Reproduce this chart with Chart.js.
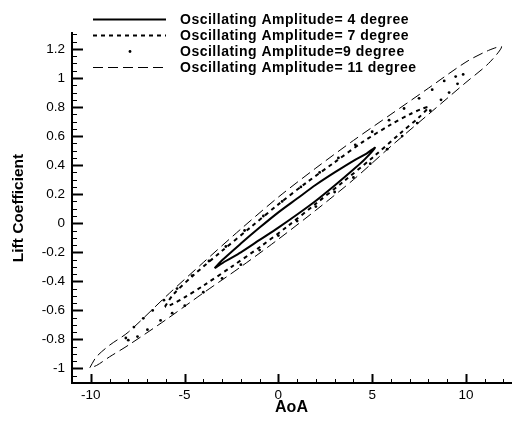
<!DOCTYPE html>
<html>
<head>
<meta charset="utf-8">
<script src="https://cdn.jsdelivr.net/npm/chart.js@4/dist/chart.umd.min.js"></script>
<style>
  html, body { margin: 0; padding: 0; background: #fff; }
</style>
</head>
<body>
<canvas id="chart" width="515" height="421"></canvas>
<script>
// loops: AoA (deg) and lift coefficient, one closed path each
const aoa4 = [-3.4, -3, -2, -1, 0, 1, 2, 3, 4, 4.7, 5.15, 4.6, 4, 3, 2, 1, 0, -1, -2, -2.8, -3.4];
const cl4 = [-0.31, -0.255, -0.14, -0.03, 0.075, 0.17, 0.265, 0.35, 0.43, 0.48, 0.52, 0.44, 0.37, 0.26, 0.155, 0.06, -0.03, -0.115, -0.2, -0.26, -0.31];

const aoa7 = [-6.05, -5.6, -4.5, -3, -1.5, 0, 1.5, 3, 4.5, 6, 7, 7.6, 8, 7.5, 6.5, 5, 3.5, 2, 0.5, -1, -2.5, -4, -5, -5.7, -6.05];
const cl7 = [-0.575, -0.49, -0.355, -0.19, -0.03, 0.13, 0.28, 0.42, 0.56, 0.68, 0.75, 0.785, 0.8, 0.73, 0.62, 0.45, 0.29, 0.135, -0.02, -0.165, -0.3, -0.43, -0.51, -0.56, -0.575];

const aoa9 = [-8.13, -7.7, -7.2, -6.7, -6.1, -5.4, -4.6, -3.7, -2.8, -1.8, -0.8, 0.2, 1.2, 2.2, 3.2, 4.1, 5.0, 5.9, 6.7, 7.5, 8.2, 8.84, 9.45, 9.85,
              9.55, 9.1, 8.67, 8.1, 7.4, 6.6, 5.8, 4.9, 4, 3, 2, 1, 0, -1, -2, -3, -4, -4.99, -5.66, -6.28, -6.98, -7.51, -8.0];
const cl9 = [-0.79, -0.715, -0.655, -0.6, -0.53, -0.45, -0.36, -0.26, -0.16, -0.05, 0.05, 0.15, 0.25, 0.35, 0.45, 0.54, 0.63, 0.71, 0.79, 0.86, 0.92, 0.98, 1.01, 1.025,
             0.96, 0.9, 0.85, 0.775, 0.69, 0.6, 0.51, 0.41, 0.315, 0.215, 0.115, 0.015, -0.085, -0.185, -0.285, -0.38, -0.475, -0.568, -0.619, -0.669, -0.733, -0.78, -0.805];

const aoa11 = [-10.05, -9.7, -9, -8, -6, -4, -2, 0, 2, 4, 6, 8, 10, 11.2, 11.9, 11.2, 10, 8, 6, 4, 2, 0, -2, -4, -6, -8, -9, -9.7, -10.05];
const cl11 = [-0.995, -0.92, -0.84, -0.75, -0.505, -0.27, -0.04, 0.18, 0.38, 0.57, 0.75, 0.93, 1.11, 1.19, 1.215, 1.1, 0.97, 0.75, 0.53, 0.3, 0.09, -0.11, -0.3, -0.48, -0.665, -0.84, -0.92, -0.98, -0.995];

const labels = ['Oscillating Amplitude= 4 degree', 'Oscillating Amplitude= 7 degree',
                'Oscillating Amplitude=9 degree', 'Oscillating Amplitude= 11 degree'];
const xTicks = [-10, -5, 0, 5, 10];
const yTicks = [-1, -0.8, -0.6, -0.4, -0.2, 0, 0.2, 0.4, 0.6, 0.8, 1, 1.2];

const FONT = "'Liberation Sans', Arial, sans-serif";

function pts(xs, ys) {
  return xs.map((x, i) => ({ x: x, y: ys[i] }));
}

// inward minor/major ticks, like the original plot
const tickMarks = {
  id: 'tickMarks',
  afterDraw(chart) {
    const ctx = chart.ctx;
    const xs = chart.scales.x, ys = chart.scales.y;
    const area = chart.chartArea;
    ctx.save();
    ctx.strokeStyle = '#000';
    for (let v = -11; v <= 12; v++) {
      const major = xTicks.includes(v);
      const px = Math.round(xs.getPixelForValue(v)) + 0.5;
      ctx.lineWidth = major ? 2 : 1;
      ctx.beginPath();
      ctx.moveTo(px, area.bottom);
      ctx.lineTo(px, area.bottom - (major ? 9 : 4));
      ctx.stroke();
    }
    for (let k = -22; k <= 26; k++) {
      const v = k * 0.05;
      const major = k % 4 === 0 && k >= -20 && k <= 24;
      const py = Math.round(ys.getPixelForValue(v)) + 0.5;
      if (py < area.top - 1) continue;
      ctx.lineWidth = major ? 2 : 1;
      ctx.beginPath();
      ctx.moveTo(area.left, py);
      ctx.lineTo(area.left + (major ? 11 : 5), py);
      ctx.stroke();
    }
    ctx.restore();
  }
};

// legend block drawn over the top of the plot
const legendBlock = {
  id: 'legendBlock',
  afterDraw(chart) {
    const ctx = chart.ctx;
    const rows = [19, 35, 51, 67];
    ctx.save();
    ctx.strokeStyle = '#000';
    ctx.fillStyle = '#000';
    rows.forEach((y, i) => {
      const ds = chart.data.datasets[i];
      if (ds.showLine === false) {
        ctx.beginPath();
        ctx.arc(130, y + 0.5, 1.4, 0, Math.PI * 2);
        ctx.fill();
      } else {
        ctx.lineWidth = ds.borderWidth;
        ctx.setLineDash(ds.borderDash || []);
        ctx.beginPath();
        ctx.moveTo(93, y + 0.5);
        ctx.lineTo(166, y + 0.5);
        ctx.stroke();
        ctx.setLineDash([]);
      }
      ctx.font = 'bold 14px ' + FONT;
      ctx.letterSpacing = '0.5px';
      ctx.textBaseline = 'middle';
      ctx.textAlign = 'left';
      ctx.fillText(labels[i], 180, y + 1);
      ctx.letterSpacing = '0px';
    });
    ctx.restore();
  }
};

const ctx = document.getElementById('chart').getContext('2d');
new Chart(ctx, {
  type: 'scatter',
  data: {
    datasets: [
      { label: labels[0], data: pts(aoa4, cl4), showLine: true, borderColor: '#000', borderWidth: 2, pointRadius: 0, tension: 0.3 },
      { label: labels[1], data: pts(aoa7, cl7), showLine: true, borderColor: '#000', borderWidth: 2, borderDash: [4, 4], pointRadius: 0, tension: 0.3 },
      { label: labels[2], data: pts(aoa9, cl9), showLine: false, backgroundColor: '#000', borderWidth: 0, pointRadius: 1.4 },
      { label: labels[3], data: pts(aoa11, cl11), showLine: true, borderColor: '#000', borderWidth: 1, borderDash: [10, 5], pointRadius: 0, tension: 0.3 }
    ]
  },
  options: {
    responsive: false,
    animation: false,
    layout: { padding: { top: 33, right: 2, left: 0, bottom: 0 } },
    plugins: { legend: { display: false }, tooltip: { enabled: false } },
    scales: {
      x: {
        type: 'linear',
        min: -11,
        max: 12.4,
        afterBuildTicks: s => { s.ticks = xTicks.map(v => ({ value: v })); },
        afterFit: s => { s.height = 38; },
        grid: { display: false, drawTicks: false },
        border: { display: true, width: 2, color: '#000' },
        ticks: { color: '#000', font: { family: FONT, size: 13.5 }, padding: 4, maxRotation: 0 },
        title: { display: true, text: 'AoA', color: '#000', font: { family: FONT, size: 16, weight: 'bold' }, padding: { top: 0, bottom: 4 } }
      },
      y: {
        type: 'linear',
        min: -1.1,
        max: 1.31,
        afterBuildTicks: s => { s.ticks = yTicks.map(v => ({ value: v })); },
        afterFit: s => { s.width = 72; },
        grid: { display: false, drawTicks: false },
        border: { display: true, width: 2, color: '#000' },
        ticks: { color: '#000', font: { family: FONT, size: 13.5 }, padding: 7, callback: v => String(Math.round(v * 10) / 10) },
        title: { display: true, text: 'Lift Coefficient', color: '#000', font: { family: FONT, size: 15.5, weight: 'bold' }, padding: { top: 9, bottom: 0 } }
      }
    }
  },
  plugins: [tickMarks, legendBlock]
});
</script>
</body>
</html>
